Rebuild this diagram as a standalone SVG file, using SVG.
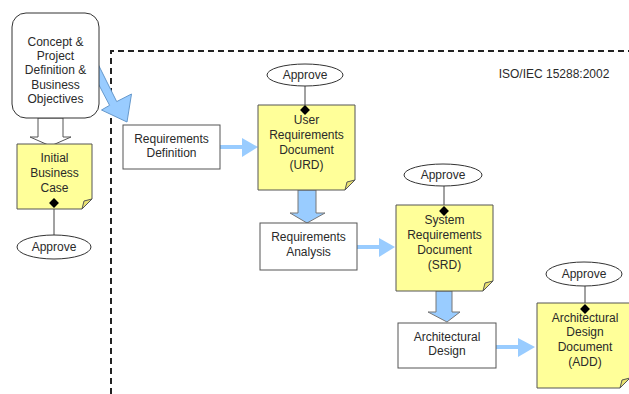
<svg xmlns="http://www.w3.org/2000/svg" width="629" height="394" viewBox="0 0 629 394">
<defs>
<style>
text{font-family:"Liberation Sans",Arial,sans-serif;font-size:12px;fill:#2a2a2a;text-anchor:middle}
.box{fill:#fff;stroke:#555;stroke-width:1}
.note{fill:#FFFF99;stroke:#555;stroke-width:1}
.fold{fill:#E8E070;stroke:#555;stroke-width:1}
.ell{fill:#fff;stroke:#333;stroke-width:1}
.link{stroke:#444;stroke-width:1;fill:none}
.dia{fill:#000}
.flow{stroke:#99CCFF;stroke-width:4;fill:none}
.flowhead{fill:#99CCFF}
.block{fill:#99CCFF;stroke:#777;stroke-width:1}
.dash{stroke:#222;stroke-width:2;stroke-dasharray:6,4;fill:none}
</style>
</defs>
<rect width="629" height="394" fill="#fff"/>
<g id="boundary">
<path class="dash" d="M111,394 V51 H629"/>
<text x="554" y="78">ISO/IEC 15288:2002</text>
</g>
<g id="connectors">
<polygon class="block" points="96,60 116.7,101.6 131.5,94 127,122 101.5,110 109.6,105.3 90,68" style="stroke:#6699CC"/>
<polygon points="38,118 63,118 63,137 71,137 50.5,146 30,137 38,137" fill="#fff" stroke="#555"/>
<line class="link" x1="54" y1="203" x2="54" y2="235"/>
<line class="link" x1="305" y1="86" x2="305" y2="110"/>
<line class="link" x1="444" y1="186" x2="444" y2="211"/>
<line class="link" x1="585" y1="286" x2="585" y2="309"/>
<line class="flow" x1="220" y1="147" x2="244" y2="147"/>
<polygon class="flowhead" points="242,138 258,147 242,157"/>
<line class="flow" x1="357" y1="247" x2="381" y2="247"/>
<polygon class="flowhead" points="379,238 395,247 379,257"/>
<line class="flow" x1="496" y1="347" x2="520" y2="347"/>
<polygon class="flowhead" points="518,338 535,347 518,357"/>
<polygon class="block" points="298,190 316,190 316,213 325,213 307,223 290,213 298,213"/>
<polygon class="block" points="436,291 452,291 452,312 460,312 447,322 428,312 436,312"/>
</g>
<g id="concept">
<rect x="12" y="13" width="87" height="105" rx="14" ry="14" fill="#fff" stroke="#333"/>
<text x="55.5" y="46">Concept &amp;</text>
<text x="55.5" y="60">Project</text>
<text x="55.5" y="74">Definition &amp;</text>
<text x="55.5" y="89">Business</text>
<text x="55.5" y="103">Objectives</text>
</g>
<g id="initial-business-case">
<path class="note" d="M17,144 H92 V199 L82,209 H17 Z"/>
<path class="fold" d="M92,199 L82,209 L84,201 Z"/>
<text x="54.5" y="162">Initial</text>
<text x="54.5" y="177">Business</text>
<text x="54.5" y="192">Case</text>
<rect class="dia" x="50.5" y="199.5" width="7" height="7" transform="rotate(45 54 203)"/>
</g>
<g id="approve-1">
<ellipse class="ell" cx="54" cy="247" rx="37" ry="12"/>
<text x="54" y="251">Approve</text>
</g>
<g id="requirements-definition">
<rect class="box" x="123" y="125" width="97" height="44"/>
<text x="171.5" y="143">Requirements</text>
<text x="171.5" y="157">Definition</text>
</g>
<g id="urd">
<path class="note" d="M258,105 H355 V180 L345,190 H258 Z"/>
<path class="fold" d="M355,180 L345,190 L347,182 Z"/>
<text x="306.5" y="124">User</text>
<text x="306.5" y="139">Requirements</text>
<text x="306.5" y="154">Document</text>
<text x="306.5" y="169">(URD)</text>
<rect class="dia" x="301.5" y="106.5" width="7" height="7" transform="rotate(45 305 110)"/>
</g>
<g id="approve-2">
<ellipse class="ell" cx="305" cy="75" rx="38" ry="11"/>
<text x="305" y="79">Approve</text>
</g>
<g id="requirements-analysis">
<rect class="box" x="260" y="223" width="97" height="47"/>
<text x="308.5" y="241">Requirements</text>
<text x="308.5" y="256">Analysis</text>
</g>
<g id="srd">
<path class="note" d="M396,205 H493 V281 L483,291 H396 Z"/>
<path class="fold" d="M493,281 L483,291 L485,283 Z"/>
<text x="444.5" y="224">System</text>
<text x="444.5" y="239">Requirements</text>
<text x="444.5" y="254">Document</text>
<text x="444.5" y="269">(SRD)</text>
<rect class="dia" x="440.5" y="207.5" width="7" height="7" transform="rotate(45 444 211)"/>
</g>
<g id="approve-3">
<ellipse class="ell" cx="443" cy="175" rx="39" ry="11"/>
<text x="443" y="179">Approve</text>
</g>
<g id="architectural-design">
<rect class="box" x="398" y="323" width="98" height="45"/>
<text x="447" y="341">Architectural</text>
<text x="447" y="355">Design</text>
</g>
<g id="add">
<path class="note" d="M537,303 H630 V378 L620,388 H537 Z"/>
<path class="fold" d="M630,378 L620,388 L622,380 Z"/>
<text x="585" y="322">Architectural</text>
<text x="585" y="336">Design</text>
<text x="585" y="351">Document</text>
<text x="585" y="366">(ADD)</text>
<rect class="dia" x="581.5" y="305.5" width="7" height="7" transform="rotate(45 585 309)"/>
</g>
<g id="approve-4">
<ellipse class="ell" cx="584" cy="274" rx="38" ry="12"/>
<text x="584" y="278">Approve</text>
</g>
</svg>
